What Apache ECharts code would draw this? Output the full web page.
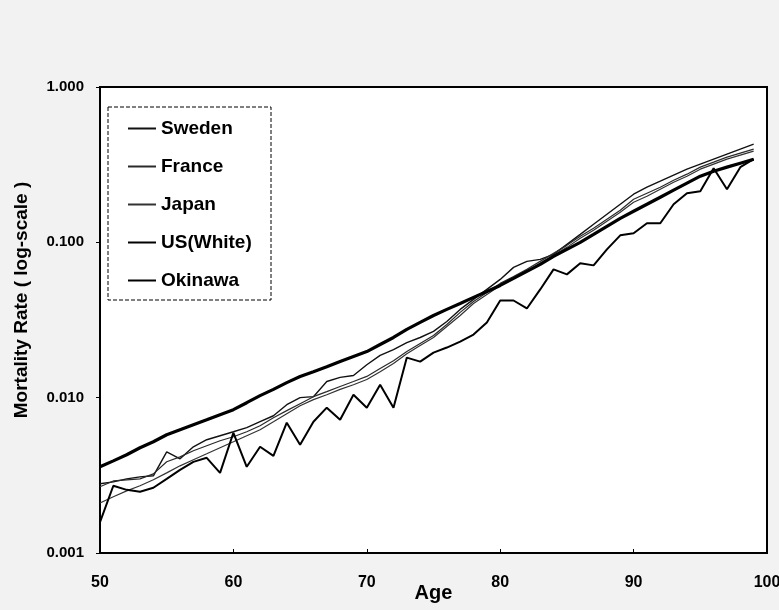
<!DOCTYPE html>
<html>
<head>
<meta charset="utf-8">
<script src="https://cdn.jsdelivr.net/npm/echarts@6/dist/echarts.min.js"></script>
<style>
html,body{margin:0;padding:0;background:#f2f2f2;}
#chart{width:779px;height:610px;}
</style>
</head>
<body>
<div id="chart"></div>
<script>
var ages = [];
for (var a = 50; a <= 99; a++) ages.push(a);

var xTicks = [50, 60, 70, 80, 90, 100];
var yTicks = [0.001, 0.010, 0.100, 1.000];

var sweden = [0.00279,0.00287,0.00300,0.00309,0.00314,0.00448,0.00404,0.00483,0.00536,0.00569,
0.00603,0.00641,0.00700,0.00765,0.00901,0.0100,0.01015,0.0127,0.0135,0.0139,
0.0163,0.0187,0.0204,0.0226,0.0244,0.0267,0.0309,0.0370,0.0429,0.0498,
0.0577,0.0690,0.0754,0.0777,0.0837,0.0971,0.1126,0.1307,0.1516,0.1759,
0.2040,0.2264,0.2475,0.2706,0.2958,0.3186,0.3431,0.3696,0.3981,0.4288];

var france = [0.00267,0.00291,0.00296,0.00300,0.00323,0.00387,0.00416,0.00455,0.00490,0.00528,
0.00560,0.00603,0.00660,0.00743,0.00825,0.00915,0.01015,0.01093,0.0118,0.0127,
0.0137,0.0154,0.0173,0.0198,0.0223,0.0251,0.0296,0.0354,0.0416,0.0476,
0.0544,0.0603,0.0670,0.0754,0.0849,0.0956,0.1093,0.1231,0.1407,0.1609,
0.1894,0.2071,0.2264,0.2512,0.2747,0.3048,0.3282,0.3535,0.3752,0.3981];

var japan = [0.00210,0.00230,0.00251,0.00271,0.00296,0.00328,0.00364,0.00398,0.00435,0.00476,
0.00520,0.00569,0.00622,0.00700,0.00789,0.00888,0.00971,0.01045,0.0113,0.0121,
0.0131,0.0147,0.0166,0.0192,0.0217,0.0244,0.0287,0.0338,0.0404,0.0462,
0.0528,0.0586,0.0650,0.0732,0.0825,0.0928,0.1061,0.1195,0.1366,0.1561,
0.1812,0.1982,0.2198,0.2438,0.2666,0.2958,0.3186,0.3431,0.3642,0.3865];

var usWhite = [0.00359,0.00392,0.00429,0.00476,0.00520,0.00577,0.00622,0.00670,0.00721,0.00777,
0.00837,0.00928,0.0103,0.0113,0.0125,0.0137,0.0147,0.0158,0.0171,0.0184,
0.0198,0.0220,0.0244,0.0275,0.0305,0.0338,0.0370,0.0404,0.0442,0.0483,
0.0528,0.0586,0.0650,0.0721,0.0812,0.0901,0.1000,0.1126,0.1269,0.1428,
0.1585,0.1759,0.1952,0.2166,0.2403,0.2666,0.2871,0.3048,0.3233,0.3431];

var okinawa = [0.00158,0.00271,0.00255,0.00248,0.00263,0.00300,0.00343,0.00386,0.00410,0.00328,
0.00594,0.00359,0.00483,0.00422,0.00690,0.00497,0.00700,0.00862,0.00721,0.01045,
0.00862,0.01213,0.00862,0.01811,0.01706,0.01950,0.02102,0.02298,0.02548,0.03048,
0.04223,0.04223,0.03752,0.04975,0.06697,0.06220,0.07324,0.07107,0.09016,0.1109,
0.1143,0.1327,0.1327,0.1758,0.2071,0.2133,0.3002,0.2197,0.3048,0.3429];

var seriesNames = ['Sweden', 'France', 'Japan', 'US(White)', 'Okinawa'];
var seriesData = [sweden, france, japan, usWhite, okinawa];
var widths = [1.4, 1.2, 1.2, 3.2, 2.0];
var colors = ['#111111', '#2a2a2a', '#333333', '#000000', '#000000'];

function pairs(arr) {
  return ages.map(function (a, i) { return [a, arr[i]]; });
}

var font = '"Liberation Sans", Arial, Helvetica, sans-serif';

var chart = echarts.init(document.getElementById('chart'), null, {renderer: 'canvas'});
chart.setOption({
  backgroundColor: '#f2f2f2',
  animation: false,
  grid: {left: 100, right: 12, top: 87, bottom: 57, outerBoundsMode: 'none', containLabel: false,
    show: true, backgroundColor: '#ffffff', borderColor: '#000', borderWidth: 2},
  xAxis: {
    type: 'value', min: 50, max: 100, interval: 10,
    name: 'Age', nameLocation: 'middle', nameGap: 30, nameMoveOverlap: false,
    nameTextStyle: {fontFamily: font, fontWeight: 'bold', fontSize: 20, color: '#000'},
    axisLine: {show: true, lineStyle: {color: '#000', width: 2}},
    axisTick: {show: true, inside: true, length: 4, lineStyle: {color: '#000'}},
    splitLine: {show: false},
    axisLabel: {margin: 22, fontFamily: font, fontWeight: 'bold', fontSize: 16, color: '#000',
      formatter: function (v) { return xTicks.indexOf(v) >= 0 ? String(v) : ''; }}
  },
  yAxis: {
    type: 'log', min: 0.001, max: 1, logBase: 10,
    name: 'Mortality Rate ( log-scale )', nameLocation: 'middle', nameGap: 69, nameMoveOverlap: false,
    nameTextStyle: {fontFamily: font, fontWeight: 'bold', fontSize: 19, color: '#000', padding: [0, 0, 0, 40]},
    axisLine: {show: true, lineStyle: {color: '#000', width: 2}},
    axisTick: {show: true, inside: false, length: 4, lineStyle: {color: '#000'}},
    splitLine: {show: false},
    minorTick: {show: false},
    axisLabel: {margin: 16, fontFamily: font, fontWeight: 'bold', fontSize: 15, color: '#000',
      formatter: function (v) {
        for (var i = 0; i < yTicks.length; i++) { if (Math.abs(v - yTicks[i]) < 1e-9) return yTicks[i].toFixed(3); }
        return '';
      }}
  },
  legend: {
    orient: 'vertical', left: 127, top: 119, z: 10, padding: 0,
    itemWidth: 28, itemHeight: 14, itemGap: 19,
    itemStyle: {opacity: 0},
    textStyle: {fontFamily: font, fontWeight: 'bold', fontSize: 19, color: '#000'},
    data: seriesNames
  },
  graphic: [{
    type: 'rect', z: 1, silent: true,
    shape: {x: 108, y: 107, width: 163, height: 193},
    style: {fill: '#ffffff', stroke: '#000', lineWidth: 1, lineDash: [4, 2]}
  }],
  series: seriesNames.map(function (n, i) {
    return {
      name: n, type: 'line', data: pairs(seriesData[i]),
      symbol: 'none', smooth: false, z: 2 + (i === 3 ? 1 : 0),
      lineStyle: {width: widths[i], color: colors[i]},
      itemStyle: {color: colors[i]}
    };
  })
});
</script>
</body>
</html>
